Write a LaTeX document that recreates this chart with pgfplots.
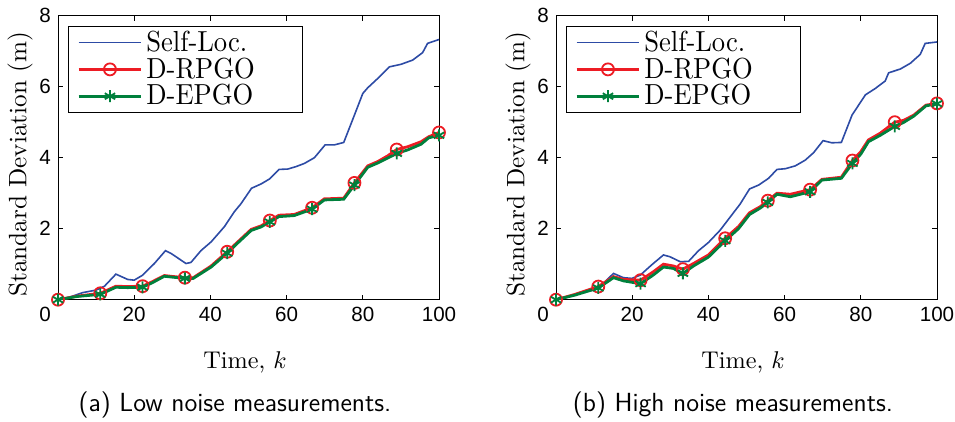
\documentclass[border=0pt]{standalone}
\usepackage{fontspec}
\usepackage{graphicx}
\usepackage{pgfplots}
\usepackage{pgfplotstable}
\pgfplotsset{compat=1.18}
\newfontfamily\arialf{Liberation Sans}
\definecolor{cblue}{RGB}{45,75,165}
\definecolor{cred}{RGB}{237,28,36}
\definecolor{cgreen}{RGB}{0,128,60}
\newcommand{\legtxt}[1]{\makebox[71.8pt][l]{\scalebox{1.33}[1.45]{#1}}}

\pgfplotstableread{
x r g
0 0 0
5 0.10 0.09
11.1 0.18 0.15
15.2 0.38 0.35
18.3 0.37 0.34
22.2 0.38 0.35
24.8 0.51 0.48
27.9 0.68 0.66
30.5 0.65 0.63
33.3 0.62 0.60
35.5 0.62 0.60
40.2 0.95 0.92
44.4 1.35 1.31
47.2 1.63 1.60
50.7 1.98 1.95
53.3 2.08 2.05
55.6 2.23 2.19
58 2.38 2.34
62 2.40 2.37
66.7 2.59 2.55
69.9 2.84 2.81
75 2.86 2.83
77.8 3.29 3.23
81.3 3.77 3.73
83.9 3.89 3.85
86.5 4.05 3.99
88.9 4.23 4.12
91.8 4.31 4.22
95.3 4.45 4.38
97.3 4.59 4.56
100 4.71 4.63
}\lowtab

\pgfplotstableread{
x r g
0 0 0
5 0.15 0.13
11.1 0.37 0.33
15.1 0.65 0.62
17.7 0.57 0.53
22.2 0.55 0.45
25.6 0.79 0.70
28.2 1.00 0.92
30.8 0.95 0.88
33.3 0.86 0.74
36.1 1.02 0.95
40 1.26 1.20
44.4 1.73 1.66
47.9 2.06 2.00
50.8 2.45 2.40
53.6 2.62 2.58
55.6 2.79 2.74
58 3.00 2.97
61.5 2.97 2.90
66.7 3.10 3.04
69.8 3.39 3.37
74.9 3.45 3.42
77.8 3.92 3.84
80 4.17 4.10
82 4.50 4.45
85.1 4.69 4.63
88.9 5.00 4.88
91.2 5.05 4.99
93.9 5.20 5.17
97.1 5.48 5.46
100 5.53 5.52
}\hightab

\pgfplotsset{mystyle/.style={
  scale only axis, width=190.5pt, height=142pt,
  xmin=0, xmax=100, ymin=0, ymax=8,
  xtick={20,40,60,80,100},
  extra x ticks={0},
  extra x tick style={xticklabel style={xshift=-6.5pt}},
  ytick={2,4,6,8},
  tick align=inside, major tick length=2.5pt,
  axis line style={line width=0.5pt},
  every tick/.style={black, line width=0.5pt},
  ticklabel style={font=\arialf\fontsize{10.3}{12}\selectfont},
  /pgf/number format/assume math mode=true,
  xlabel={\scalebox{1.21}{Time, $k$}},
  ylabel={\scalebox{1.26}{Standard Deviation (m)}},
  x label style={at={(axis description cs:0.491,-0.2197)}, anchor=center},
  y label style={at={(axis description cs:-0.0997,0.477)}, anchor=center},
  legend style={at={(axis description cs:0.0262,0.9637)}, anchor=north west,
    draw=black, line width=0.6pt,
    nodes={inner xsep=1.85pt, inner ysep=0.6pt},
    cells={anchor=west}, inner xsep=4.35pt, inner ysep=1.5pt, row sep=0.5pt},
  legend image code/.code={\draw[##1, mark indices={2}] plot coordinates {(0pt,0pt) (15.65pt,0pt) (31.3pt,0pt)};},
}}

\begin{document}
\begin{tikzpicture}
\path[use as bounding box] (-29pt,-60.7pt) rectangle (448.5pt,149.85pt);
\begin{axis}[mystyle, at={(0pt,0pt)}]
\addplot[cblue, line width=0.8pt] coordinates {(0,0) (3,0.07) (6.5,0.2) (10,0.27) (12.2,0.38) (15.2,0.72) (18.3,0.57) (20,0.55) (22.2,0.69) (25.3,1.02) (28.2,1.38) (29.7,1.3) (33.6,1.02) (34.9,1.05) (37.5,1.38) (40.2,1.63) (43.7,2.06) (46.3,2.48) (48,2.7) (50.8,3.14) (53.3,3.26) (55.5,3.4) (58,3.67) (60.3,3.68) (62.5,3.75) (64.7,3.84) (67.3,4.0) (70.1,4.36) (72.5,4.36) (75,4.43) (77.8,5.2) (80,5.81) (81.3,5.97) (83.9,6.23) (87,6.56) (90,6.63) (93.1,6.75) (95.7,6.96) (97,7.22) (100,7.33)};
\addlegendentry{\legtxt{Self-Loc.}}
\addplot[cred, line width=1.4pt, mark=o, mark size=3pt, mark options={line width=0.9pt}, mark indices={1,3,6,10,13,17,20,23,27,31}] table[x=x, y=r] {\lowtab};
\addlegendentry{\legtxt{D-RPGO}}
\addplot[cgreen, line width=1.4pt, mark=asterisk, mark size=3pt, mark options={line width=0.9pt}, mark indices={1,3,6,10,13,17,20,23,27,31}] table[x=x, y=g] {\lowtab};
\addlegendentry{\legtxt{D-EPGO}}
\end{axis}
\begin{axis}[mystyle, at={(249pt,0pt)}]
\addplot[cblue, line width=0.8pt] coordinates {(0,0) (3,0.07) (6.3,0.2) (9.8,0.27) (12.4,0.46) (15.1,0.74) (17.7,0.62) (19.9,0.6) (22.1,0.69) (25.1,0.98) (28.2,1.26) (29.9,1.21) (32.6,1.07) (34.8,1.08) (37.4,1.38) (40,1.61) (43.1,1.96) (45.3,2.27) (48.3,2.69) (50.8,3.12) (53.2,3.23) (55.8,3.42) (58,3.67) (60.2,3.69) (62.8,3.77) (65.4,3.93) (67.6,4.14) (70.1,4.48) (72.4,4.42) (74.9,4.43) (77.7,5.2) (81.2,5.77) (83.8,5.95) (86.4,6.16) (87.3,6.39) (90.4,6.5) (93,6.66) (95.6,6.91) (96.9,7.22) (100,7.26)};
\addlegendentry{\legtxt{Self-Loc.}}
\addplot[cred, line width=1.4pt, mark=o, mark size=3pt, mark options={line width=0.9pt}, mark indices={1,3,6,10,13,17,20,23,27,31}] table[x=x, y=r] {\hightab};
\addlegendentry{\legtxt{D-RPGO}}
\addplot[cgreen, line width=1.4pt, mark=asterisk, mark size=3pt, mark options={line width=0.9pt}, mark indices={1,3,6,10,13,17,20,23,27,31}] table[x=x, y=g] {\hightab};
\addlegendentry{\legtxt{D-EPGO}}
\end{axis}
\node[font=\sffamily\fontsize{13.1}{15}\selectfont] at (88.5pt,-52.7pt) {(a) Low noise measurements.};
\node[font=\sffamily\fontsize{13.1}{15}\selectfont] at (337.5pt,-52.7pt) {(b) High noise measurements.};
\end{tikzpicture}
\end{document}
